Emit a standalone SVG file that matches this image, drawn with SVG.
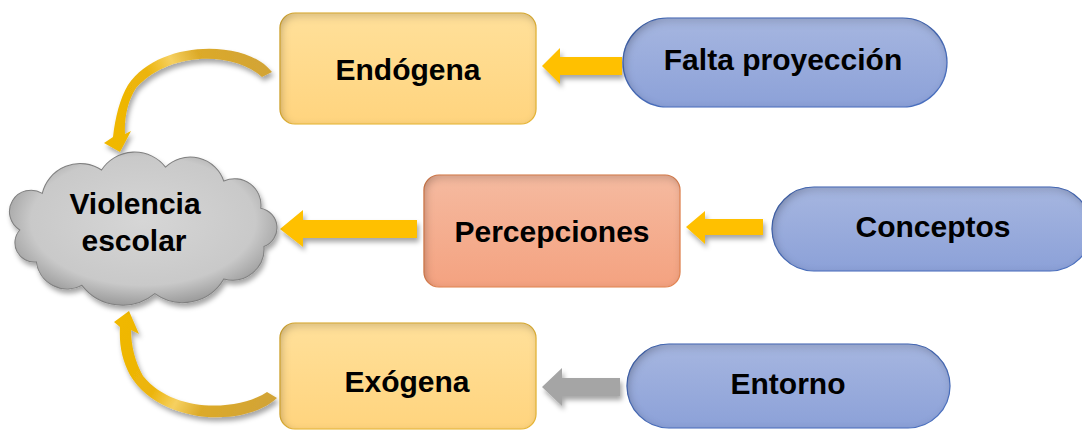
<svg xmlns="http://www.w3.org/2000/svg" width="1082" height="430" viewBox="0 0 1082 430">
<defs>
<style>
.lbl{font-family:"Liberation Sans",Arial,sans-serif;font-weight:bold;font-size:30px;fill:#000;text-anchor:middle}
.yel{fill:url(#boxYel);stroke:#F2BE3A;stroke-width:1.2}
.sal{fill:url(#boxSal);stroke:#EE8B57;stroke-width:1.2}
.pill{fill:url(#pillBlue);stroke:#4E74C6;stroke-width:1.2}
.arrY{fill:#FFC000}
.arrG{fill:#A5A5A5}
</style>
<linearGradient id="boxYel" x1="0" y1="0" x2="0" y2="1">
<stop offset="0" stop-color="#FFE09A"/><stop offset="1" stop-color="#FFD47E"/>
</linearGradient>
<linearGradient id="boxSal" x1="0" y1="0" x2="0" y2="1">
<stop offset="0" stop-color="#F5BAA0"/><stop offset="1" stop-color="#F4A280"/>
</linearGradient>
<linearGradient id="pillBlue" x1="0" y1="0" x2="0" y2="1">
<stop offset="0" stop-color="#A6B6E0"/><stop offset="1" stop-color="#8CA1D8"/>
</linearGradient>
<radialGradient id="cloudG" cx="0.5" cy="0.45" r="0.6">
<stop offset="0" stop-color="#D6D6D6"/><stop offset="0.7" stop-color="#C9C9C9"/><stop offset="1" stop-color="#8C8C8C"/>
</radialGradient>
<linearGradient id="curveTop" gradientUnits="userSpaceOnUse" x1="272" y1="60" x2="110" y2="140">
<stop offset="0" stop-color="#D1A338"/><stop offset="0.35" stop-color="#DCAA28"/><stop offset="0.5" stop-color="#F6D060"/><stop offset="0.65" stop-color="#ECB40A"/><stop offset="1" stop-color="#F0B800"/>
</linearGradient>
<linearGradient id="curveBot" gradientUnits="userSpaceOnUse" x1="277" y1="400" x2="125" y2="315">
<stop offset="0" stop-color="#D1A338"/><stop offset="0.35" stop-color="#DCAA28"/><stop offset="0.5" stop-color="#F6D060"/><stop offset="0.65" stop-color="#ECB40A"/><stop offset="1" stop-color="#F0B800"/>
</linearGradient>
<filter id="inner" x="-5%" y="-5%" width="110%" height="110%">
<feComponentTransfer in="SourceAlpha" result="inv"><feFuncA type="table" tableValues="1 0"/></feComponentTransfer>
<feGaussianBlur in="inv" stdDeviation="4"/>
<feOffset dx="2" dy="3" result="blur"/>
<feFlood flood-color="#000" flood-opacity="0.5"/>
<feComposite in2="blur" operator="in"/>
<feComposite in2="SourceAlpha" operator="in" result="sh"/>
<feMerge><feMergeNode in="SourceGraphic"/><feMergeNode in="sh"/></feMerge>
</filter>
<filter id="drop" x="-20%" y="-30%" width="140%" height="160%">
<feGaussianBlur in="SourceAlpha" stdDeviation="2.5"/>
<feOffset dx="2" dy="4" result="b"/>
<feFlood flood-color="#000" flood-opacity="0.35"/>
<feComposite in2="b" operator="in"/>
<feMerge><feMergeNode/><feMergeNode in="SourceGraphic"/></feMerge>
</filter>
</defs>
<rect width="1082" height="430" fill="#FFFFFF"/>

<g id="connectors">
<polygon class="arrY" filter="url(#drop)" points="542,66 560,48 560,57 622,57 622,75 560,75 560,84"/>
<polygon class="arrY" filter="url(#drop)" points="280,229 303,210 303,220 417,220 417,238 303,238 303,247"/>
<polygon class="arrY" filter="url(#drop)" points="686,227 705,211 705,219 763,219 763,235 705,235 705,244"/>
<polygon class="arrG" filter="url(#drop)" points="542,387 562,368 562,378 620,378 620,396 562,396 562,406"/>
<path fill="url(#curveTop)" filter="url(#drop)" d="M272,72 C248,40 160,38 128,85 C120,98 115,118 113,137 L104,143 L120,152 L131,131 L125,134 C124,118 128,100 136,88 C170,50 235,52 262,77 Z"/>
<path fill="url(#curveBot)" filter="url(#drop)" d="M277,398 C245,428 160,425 130,375 C122,360 119,345 120,327 L114,322 L129,311 L139,334 L131,330 C131,345 135,362 143,376 C175,415 240,410 267,392 Z"/>
</g>

<g id="node-violencia">
<path fill="url(#cloudG)" stroke="#808080" stroke-width="1" filter="url(#drop)" transform="translate(144,230) scale(1.035,1.03) translate(-144,-230)" d="M24,230 A18.7,18.7 0 0 1 45.7,194.4 A37.6,37.6 0 0 1 103,171.7 A38,38 0 0 1 164.8,168.9 A34.2,34.2 0 0 1 221.1,182.5 A25.4,25.4 0 0 1 256.8,208.8 A19.4,19.4 0 0 1 259.9,246 A30.5,30.5 0 0 1 221.1,277.5 A46,46 0 0 1 154.5,291.8 A49.5,49.5 0 0 1 84,283.7 A30,30 0 0 1 40,261 A18.7,18.7 0 0 1 24,230 Z"/>
<text class="lbl" x="135" y="214">Violencia</text>
<text class="lbl" x="134" y="251">escolar</text>
</g>

<g id="node-endogena">
<rect class="yel" filter="url(#inner)" x="280" y="13" width="256" height="111" rx="15"/>
<text class="lbl" x="408" y="80">Endógena</text>
</g>

<g id="node-percepciones">
<rect class="sal" filter="url(#inner)" x="424" y="175" width="256" height="112" rx="15"/>
<text class="lbl" x="552" y="242">Percepciones</text>
</g>

<g id="node-exogena">
<rect class="yel" filter="url(#inner)" x="280" y="323" width="256" height="106" rx="15"/>
<text class="lbl" x="407" y="392">Exógena</text>
</g>

<g id="node-falta">
<rect class="pill" filter="url(#inner)" x="623" y="18" width="324" height="89" rx="44.5"/>
<text class="lbl" x="783" y="70">Falta proyección</text>
</g>

<g id="node-conceptos">
<rect class="pill" filter="url(#inner)" x="772" y="187" width="320" height="84" rx="42"/>
<text class="lbl" x="933" y="237">Conceptos</text>
</g>

<g id="node-entorno">
<rect class="pill" filter="url(#inner)" x="627" y="344" width="323" height="84" rx="42"/>
<text class="lbl" x="788" y="394">Entorno</text>
</g>
</svg>
